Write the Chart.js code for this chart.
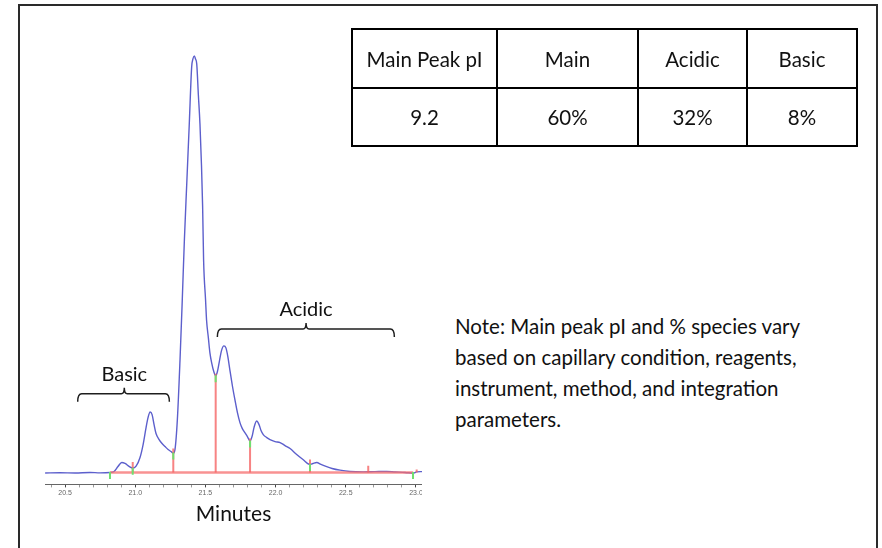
<!DOCTYPE html>
<html>
<head>
<meta charset="utf-8">
<script src="https://cdn.jsdelivr.net/npm/chart.js@4.4.1/dist/chart.umd.min.js"></script>
<style>
  body { margin: 0; background: #fff; width: 882px; height: 548px; overflow: hidden; position: relative; font-family: Lato, "Open Sans", sans-serif; color: #111; }
  #frame { position: absolute; left: 18px; top: 4px; width: 856px; height: 600px; border: 2px solid #2a2a2a; }
  #plotClip { position: absolute; left: 0; top: 0; width: 422px; height: 548px; overflow: hidden; }
  #peakTable { position: absolute; left: 351px; top: 28px; border-collapse: collapse; table-layout: fixed; width: 505px; font-size: 20.5px; }
  #peakTable td { border: 2px solid #000; text-align: center; vertical-align: middle; padding: 0; }
  #peakTable tr.head td { height: 57px; }
  #peakTable tr.vals td { height: 56px; }
  #note { position: absolute; left: 455px; top: 311px; font-size: 20.5px; line-height: 31px; white-space: nowrap; }
</style>
</head>
<body>
<div id="frame"></div>
<div id="plotClip"><canvas id="ciefChart" width="440" height="548"></canvas></div>
<table id="peakTable">
  <colgroup><col style="width:145px"><col style="width:141px"><col style="width:109px"><col style="width:110px"></colgroup>
  <tr class="head" id="headRow"></tr>
  <tr class="vals" id="valRow"></tr>
</table>
<div id="note">Note: Main peak pI and % species vary<br>based on capillary condition, reagents,<br>instrument, method, and integration<br>parameters.</div>
<script>
// electropherogram trace (minutes vs. signal, arbitrary units above baseline)
const times = [20.358, 20.464, 20.571, 20.678, 20.749, 20.820, 20.849, 20.877, 20.904, 20.927,
  20.956, 20.982, 21.006, 21.034, 21.056, 21.077, 21.091, 21.106, 21.120, 21.134,
  21.148, 21.170, 21.191, 21.212, 21.234, 21.255, 21.271, 21.283, 21.300, 21.319,
  21.335, 21.350, 21.367, 21.385, 21.402, 21.411, 21.421, 21.429, 21.438, 21.450,
  21.461, 21.472, 21.480, 21.487, 21.501, 21.508, 21.521, 21.532, 21.546, 21.560,
  21.573, 21.585, 21.600, 21.614, 21.632, 21.646, 21.660, 21.674, 21.692, 21.710,
  21.728, 21.746, 21.763, 21.781, 21.799, 21.818, 21.832, 21.846, 21.865, 21.882,
  21.896, 21.912, 21.937, 21.960, 21.996, 22.032, 22.067, 22.103, 22.150, 22.195,
  22.245, 22.266, 22.293, 22.323, 22.359, 22.402, 22.459, 22.530, 22.622, 22.708,
  22.791, 22.851, 22.922, 22.979, 23.005, 23.043];
const signal = [-0.5, -0.3, -0.6, 0, -0.4, 0, 1, 6, 10, 9,
  6, 4.3, 6.3, 15, 28, 45, 55, 60.6, 58, 48,
  39, 33, 29, 26, 23, 21, 19.3, 23, 53, 113,
  173, 233, 290, 350, 407, 415, 418, 415, 410, 378,
  350, 308, 267, 213, 173, 153, 135, 120, 109, 101,
  97, 101, 112, 122, 127, 125, 116, 103, 87, 73,
  60, 50, 44, 40, 36, 31.6, 36, 45, 51.6, 48,
  42, 38, 35, 33, 31, 30, 27, 24, 18, 13,
  8, 9, 10, 8, 6, 4, 2.3, 1, 0.6, 0.8,
  1, 0.5, 0, -0.8, 0.6, 0.8];

// integration events
const dropTimes = [20.982, 21.271, 21.573, 21.818, 22.245, 22.66, 23.005];
const dropTops = [10.6, 24, 99, 34, 13, 6.6, 3];
const markTimes = [20.82, 20.982, 21.271, 21.573, 21.818, 22.245, 22.979];
const markLevels = [-3, 1.3, 16.5, 94, 28.6, 5, -3];
const baselineFrom = 20.82;
const baselineTo = 22.98;

// brackets
const bracketNames = ['Basic', 'Acidic'];
const bracketFrom = [20.59, 21.585];
const bracketTo = [21.243, 22.846];
const bracketMid = [20.922, 22.217];
const bracketLevel = [79, 144];

// table
const tableHeads = ['Main Peak pI', 'Main', 'Acidic', 'Basic'];
const tableVals = ['9.2', '60%', '32%', '8%'];

const headRow = document.getElementById('headRow');
const valRow = document.getElementById('valRow');
tableHeads.forEach(h => { const td = document.createElement('td'); td.textContent = h; headRow.appendChild(td); });
tableVals.forEach(v => { const td = document.createElement('td'); td.textContent = v; valRow.appendChild(td); });

const tracePts = times.map((t, i) => ({ x: t, y: signal[i] }));
const dropPts = [];
dropTimes.forEach((t, i) => {
  dropPts.push({ x: t, y: 0 }, { x: t, y: dropTops[i] }, { x: t, y: null });
});
const markPts = markTimes.map((t, i) => ({ x: t, y: markLevels[i] }));

const bracketPlugin = {
  id: 'brackets',
  afterDatasetsDraw(chart) {
    const { ctx, scales: { x, y } } = chart;
    ctx.save();
    ctx.strokeStyle = '#1e1e1e';
    ctx.lineWidth = 1.5;
    ctx.fillStyle = '#111';
    ctx.font = '20px Lato, "Open Sans", sans-serif';
    ctx.textAlign = 'center';
    ctx.textBaseline = 'alphabetic';
    bracketNames.forEach((name, i) => {
      const x1 = x.getPixelForValue(bracketFrom[i]);
      const x2 = x.getPixelForValue(bracketTo[i]);
      const xm = x.getPixelForValue(bracketMid[i]);
      const yl = y.getPixelForValue(bracketLevel[i]);
      ctx.beginPath();
      ctx.moveTo(x1, yl + 8);
      ctx.quadraticCurveTo(x1, yl, x1 + 4, yl);
      ctx.lineTo(xm - 3, yl);
      ctx.quadraticCurveTo(xm, yl, xm, yl - 6);
      ctx.quadraticCurveTo(xm, yl, xm + 3, yl);
      ctx.lineTo(x2 - 4, yl);
      ctx.quadraticCurveTo(x2, yl, x2, yl + 8);
      ctx.stroke();
      ctx.fillText(name, xm, yl - 13);
    });
    ctx.restore();
  }
};

new Chart(document.getElementById('ciefChart'), {
  type: 'line',
  data: {
    datasets: [
      {
        label: 'marks', data: markPts, showLine: false,
        pointStyle: 'line', rotation: 90, pointRadius: 3.5,
        borderColor: '#6fe06f', borderWidth: 2
      },
      {
        label: 'drops', data: dropPts, spanGaps: false,
        borderColor: 'rgba(245, 100, 100, 0.8)', borderWidth: 2, pointRadius: 0
      },
      {
        label: 'baseline', data: [{ x: baselineFrom, y: 0 }, { x: baselineTo, y: 0 }],
        borderColor: 'rgba(245, 110, 110, 0.75)', borderWidth: 2.5, pointRadius: 0
      },
      {
        label: 'signal', data: tracePts,
        borderColor: '#5c5fcc', borderWidth: 1.4, pointRadius: 0,
        cubicInterpolationMode: 'monotone'
      }
    ]
  },
  options: {
    responsive: false,
    animation: false,
    layout: { padding: { left: 45, right: 18, top: 34, bottom: 21 } },
    plugins: { legend: { display: false }, tooltip: { enabled: false } },
    scales: {
      x: {
        type: 'linear', min: 20.357, max: 23.043,
        grid: {
          drawOnChartArea: false, drawTicks: true, tickLength: 3,
          tickColor: c => (Math.abs(c.tick.value * 2 - Math.round(c.tick.value * 2)) < 1e-6 ? '#444' : '#999')
        },
        border: { display: true, color: '#666', width: 1 },
        ticks: {
          stepSize: 0.1, includeBounds: false, autoSkip: false, maxRotation: 0, padding: 1,
          color: '#666', font: { size: 7, family: 'Liberation Sans, Arial, sans-serif' },
          callback: v => (Math.abs(v * 2 - Math.round(v * 2)) < 1e-6 ? v.toFixed(1) : '')
        },
        title: {
          display: true, text: 'Minutes', color: '#111',
          font: { size: 21, family: 'Lato, "Open Sans", sans-serif' },
          padding: { top: 4, bottom: 0 }
        }
      },
      y: { display: false, min: -12, max: 440 }
    }
  },
  plugins: [bracketPlugin]
});
</script>
</body>
</html>
